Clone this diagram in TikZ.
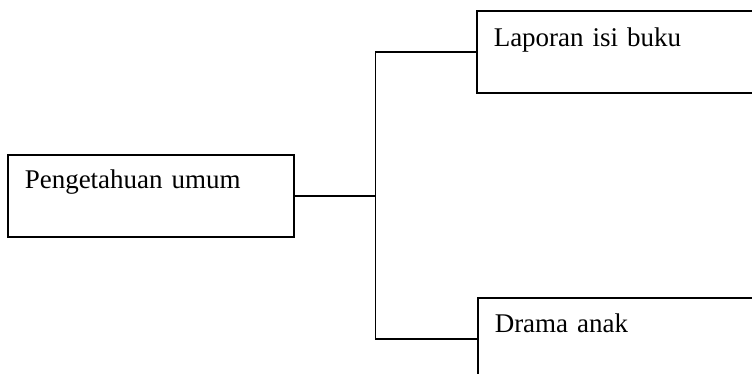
\documentclass[tikz,border=0pt]{standalone}
\usepackage{fontspec}
\setmainfont{Liberation Serif}
\usetikzlibrary{positioning}
\tikzset{
  topik/.style={draw=black, rectangle, inner ysep=0pt, align=left,
    font=\fontsize{27}{32}\selectfont},
  cabang/.style={draw=black},
}

\begin{document}
\begin{tikzpicture}[x=1pt,y=-1pt,line width=1.5pt]
  \useasboundingbox (0,0) rectangle (752,373);
  \clip (0,0) rectangle (752,373);

  \node[topik,anchor=north west,inner xsep=17pt,text width=252pt,
    text height=34pt,text depth=48pt] (umum) at (7,154) {Pengetahuan umum};
  \coordinate[right=81pt of umum.east] (simpul);

  \node[topik,anchor=north west,inner xsep=17pt,text width=300pt,
    text height=36pt,text depth=46pt] (laporan) at (476,10) {Laporan isi buku};
  \node[topik,anchor=north west,inner xsep=17pt,text width=300pt,
    text height=35pt,text depth=47pt] (drama) at (477,297) {Drama anak};

  \draw[cabang] (umum.east) -- (simpul);
  \draw[cabang] (simpul) |- (laporan.west);
  \draw[cabang] (simpul) |- (drama.west);

\end{tikzpicture}
\end{document}
